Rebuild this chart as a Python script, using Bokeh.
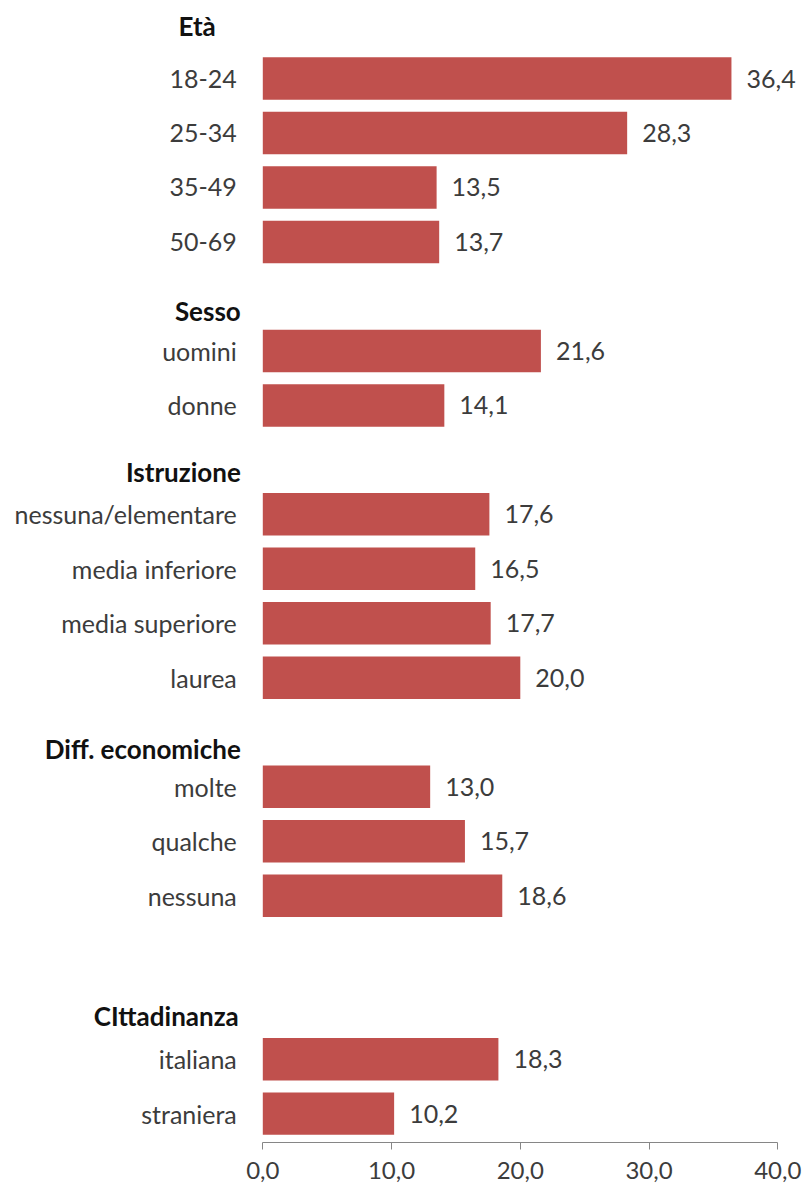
from bokeh.plotting import figure
from bokeh.models import Range1d, FixedTicker, ColumnDataSource
from bokeh.core.properties import value
from bokeh.embed import file_html
from bokeh.resources import INLINE

# ---- data ----
group_titles = ["Età", "Sesso", "Istruzione", "Diff. economiche", "CIttadinanza"]
eta_labels = ["18-24", "25-34", "35-49", "50-69"]
eta_values = [36.4, 28.3, 13.5, 13.7]
sesso_labels = ["uomini", "donne"]
sesso_values = [21.6, 14.1]
istruzione_labels = ["nessuna/elementare", "media inferiore", "media superiore", "laurea"]
istruzione_values = [17.6, 16.5, 17.7, 20.0]
diff_labels = ["molte", "qualche", "nessuna"]
diff_values = [13.0, 15.7, 18.6]
citt_labels = ["italiana", "straniera"]
citt_values = [18.3, 10.2]
tick_values = [0, 10, 20, 30, 40]
tick_labels = ["0,0", "10,0", "20,0", "30,0", "40,0"]

groups = [
    (eta_labels, eta_values),
    (sesso_labels, sesso_values),
    (istruzione_labels, istruzione_values),
    (diff_labels, diff_values),
    (citt_labels, citt_values),
]
# layout: empty slots before each group, and where each title sits relative to the first bar
gap_before = [0, 1, 1, 1, 2]
title_shift = [-0.97, -0.74, -0.77, -0.70, -0.80]
title_offset_px = [-47, -22, -22, -22, -24]

cats, vals, ys = [], [], []
title_y = []
slot = 0
for (labs, vs), gap, sh in zip(groups, gap_before, title_shift):
    slot += gap
    title_y.append(slot + sh)
    for l, v in zip(labs, vs):
        cats.append(l)
        vals.append(v)
        ys.append(slot)
        slot += 1

FONT = "Lato"
TXT = "#3c3c3c"
W, H = 806, 1187

p = figure(width=W, height=H, output_backend="svg", toolbar_location=None,
           x_range=Range1d(-262.3 / 12.875, (W - 262.3) / 12.875),
           y_range=Range1d(19.53, -1.432),
           min_border_left=0, min_border_right=0, min_border_top=0, min_border_bottom=45)
p.outline_line_color = None
p.grid.visible = False
p.yaxis.visible = False

src = ColumnDataSource(dict(
    y=ys, v=vals, cat=cats,
    vt=[f"{v:.1f}".replace(".", ",") for v in vals],
))
p.hbar(y="y", right="v", left=0, height=0.78, source=src,
       fill_color="#C0504D", line_color=None)

p.text(x=0, y="y", text="cat", source=src, x_offset=-26,
       text_align="right", text_baseline="middle",
       text_font=value(FONT), text_font_size="25px", text_color=TXT)
p.text(x="v", y="y", text="vt", source=src, x_offset=15,
       text_align="left", text_baseline="middle",
       text_font=value(FONT), text_font_size="25px", text_color=TXT)

tsrc = ColumnDataSource(dict(y=title_y, t=group_titles, xo=title_offset_px))
p.text(x=0, y="y", text="t", source=tsrc, x_offset="xo",
       text_align="right", text_baseline="middle",
       text_font=value(FONT), text_font_style="bold",
       text_font_size="26px", text_color="#111111")

ax = p.xaxis[0]
ax.ticker = FixedTicker(ticks=tick_values)
ax.major_label_overrides = {t: l for t, l in zip(tick_values, tick_labels)}
ax.bounds = (0, 40)
ax.axis_line_color = "#868686"
ax.major_tick_line_color = "#868686"
ax.major_tick_in = 0
ax.major_tick_out = 7
ax.minor_tick_line_color = None
ax.major_label_standoff = 12
ax.major_label_text_font = FONT
ax.major_label_text_font_size = "24px"
ax.major_label_text_line_height = 0.9
ax.major_label_text_color = TXT

open("out.html", "w").write(file_html(p, INLINE))
